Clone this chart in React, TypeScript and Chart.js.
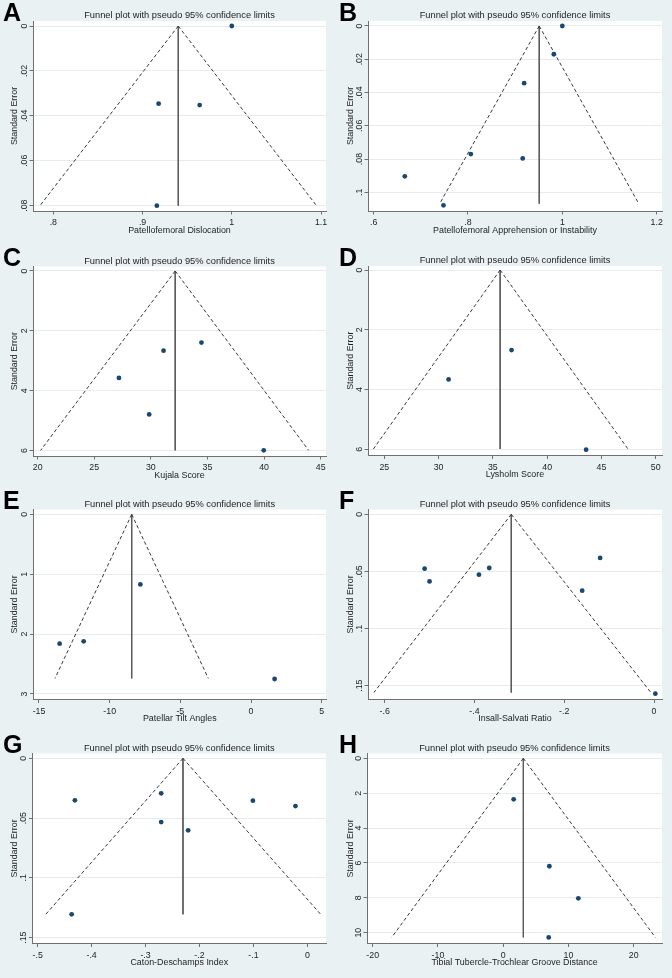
import React, { useEffect, useRef } from "react";
import { Chart, registerables } from "chart.js";

Chart.register(...registerables);

const FONT = '"Liberation Sans", Arial, Helvetica, sans-serif';
const BG = "#e9f1f3";
const NAVY = "#1a476f";
const LINE = "#383838";
const AXIS = "#707070";
const GRID = "#e4ecef";
const TEXT = "#1e1e1e";
const TITLE = "Funnel plot with pseudo 95% confidence limits";
const Y_TITLE = "Standard Error";

// ---------- A: Patellofemoral Dislocation ----------
const aEffect = [1.0, 0.918, 0.964, 0.916];
const aSE = [0.0, 0.0346, 0.0352, 0.08];
const aTheta = 0.94;
const aMaxSE = 0.08;
const aLower = 0.785;
const aUpper = 1.095;
const aXTicks = [0.8, 0.9, 1, 1.1];
const aXTickLabels = [".8", ".9", "1", "1.1"];
const aYTicks = [0, 0.02, 0.04, 0.06, 0.08];
const aYTickLabels = ["0", ".02", ".04", ".06", ".08"];

// ---------- B: Patellofemoral Apprehension or Instability ----------
const bEffect = [1.0, 0.982, 0.919, 0.806, 0.916, 0.666, 0.748];
const bSE = [0.0, 0.017, 0.0344, 0.077, 0.0796, 0.0904, 0.1078];
const bTheta = 0.951;
const bMaxSE = 0.1068;
const bLower = 0.74;
const bUpper = 1.162;
const bXTicks = [0.6, 0.8, 1, 1.2];
const bXTickLabels = [".6", ".8", "1", "1.2"];
const bYTicks = [0, 0.02, 0.04, 0.06, 0.08, 0.1];
const bYTickLabels = ["0", ".02", ".04", ".06", ".08", ".1"];

// ---------- C: Kujala Score ----------
const cEffect = [34.47, 31.12, 27.18, 29.85, 39.97];
const cSE = [2.39, 2.66, 3.57, 4.79, 5.99];
const cTheta = 32.15;
const cMaxSE = 5.99;
const cLower = 20.26;
const cUpper = 43.94;
const cXTicks = [20, 25, 30, 35, 40, 45];
const cXTickLabels = ["20", "25", "30", "35", "40", "45"];
const cYTicks = [0, 2, 4, 6];
const cYTickLabels = ["0", "2", "4", "6"];

// ---------- D: Lysholm Score ----------
const dEffect = [36.72, 30.92, 43.59];
const dSE = [2.68, 3.66, 6.01];
const dTheta = 35.67;
const dMaxSE = 5.99;
const dLower = 23.99;
const dUpper = 47.45;
const dXTicks = [25, 30, 35, 40, 45, 50];
const dXTickLabels = ["25", "30", "35", "40", "45", "50"];
const dYTicks = [0, 2, 4, 6];
const dYTickLabels = ["0", "2", "4", "6"];

// ---------- E: Patellar Tilt Angles ----------
const eEffect = [-7.83, -11.84, -13.54, 1.67];
const eSE = [1.17, 2.12, 2.16, 2.75];
const eTheta = -8.44;
const eMaxSE = 2.74;
const eLower = -13.87;
const eUpper = -3.02;
const eXTicks = [-15, -10, -5, 0, 5];
const eXTickLabels = ["-15", "-10", "-5", "0", "5"];
const eYTicks = [0, 1, 2, 3];
const eYTickLabels = ["0", "1", "2", "3"];

// ---------- F: Insall-Salvati Ratio ----------
const fEffect = [-0.12, -0.511, -0.367, -0.39, -0.5, -0.16, 0.003];
const fSE = [0.0382, 0.0476, 0.047, 0.0528, 0.0587, 0.0668, 0.157];
const fTheta = -0.318;
const fMaxSE = 0.156;
const fLower = -0.624;
const fUpper = -0.007;
const fXTicks = [-0.6, -0.4, -0.2, 0];
const fXTickLabels = ["-.6", "-.4", "-.2", "0"];
const fYTicks = [0, 0.05, 0.1, 0.15];
const fYTickLabels = ["0", ".05", ".1", ".15"];

// ---------- G: Caton-Deschamps Index ----------
const gEffect = [-0.431, -0.271, -0.271, -0.221, -0.101, -0.022, -0.437];
const gSE = [0.0351, 0.0293, 0.0533, 0.0602, 0.0354, 0.0399, 0.1305];
const gTheta = -0.2306;
const gMaxSE = 0.1305;
const gLower = -0.485;
const gUpper = 0.0247;
const gXTicks = [-0.5, -0.4, -0.3, -0.2, -0.1, 0];
const gXTickLabels = ["-.5", "-.4", "-.3", "-.2", "-.1", "0"];
const gYTicks = [0, 0.05, 0.1, 0.15];
const gYTickLabels = ["0", ".05", ".1", ".15"];

// ---------- H: Tibial Tubercle-Trochlear Groove Distance ----------
const hEffect = [1.61, 7.08, 11.52, 6.98];
const hSE = [2.35, 6.19, 8.03, 10.27];
const hTheta = 3.09;
const hMaxSE = 10.27;
const hLower = -17.09;
const hUpper = 23.32;
const hXTicks = [-20, -10, 0, 10, 20];
const hXTickLabels = ["-20", "-10", "0", "10", "20"];
const hYTicks = [0, 2, 4, 6, 8, 10];
const hYTickLabels = ["0", "2", "4", "6", "8", "10"];

type PanelSpec = {
  letter: string;
  xTitle: string;
  effect: number[];
  se: number[];
  theta: number;
  maxSE: number;
  lower: number;
  upper: number;
  xTicks: number[];
  xTickLabels: string[];
  yTicks: number[];
  yTickLabels: string[];
  xMin: number;
  xMax: number;
  yMin: number;
  yMax: number;
  // layout
  left: number;
  top: number;
  h: number;
  box: { l: number; t: number; r: number; b: number };
};

const W = 336;

const panels: PanelSpec[] = [
  {
    letter: "A", xTitle: "Patellofemoral Dislocation",
    effect: aEffect, se: aSE, theta: aTheta, maxSE: aMaxSE, lower: aLower, upper: aUpper,
    xTicks: aXTicks, xTickLabels: aXTickLabels, yTicks: aYTicks, yTickLabels: aYTickLabels,
    xMin: 0.7772, xMax: 1.1056, yMin: -0.00223, yMax: 0.08237,
    left: 0, top: 0, h: 245, box: { l: 33, t: 21, r: 326, b: 211 },
  },
  {
    letter: "B", xTitle: "Patellofemoral Apprehension or Instability",
    effect: bEffect, se: bSE, theta: bTheta, maxSE: bMaxSE, lower: bLower, upper: bUpper,
    xTicks: bXTicks, xTickLabels: bXTickLabels, yTicks: bYTicks, yTickLabels: bYTickLabels,
    xMin: 0.588, xMax: 1.2113, yMin: -0.003, yMax: 0.11122,
    left: 336, top: 0, h: 245, box: { l: 32, t: 21, r: 326, b: 211 },
  },
  {
    letter: "C", xTitle: "Kujala Score",
    effect: cEffect, se: cSE, theta: cTheta, maxSE: cMaxSE, lower: cLower, upper: cUpper,
    xTicks: cXTicks, xTickLabels: cXTickLabels, yTicks: cYTicks, yTickLabels: cYTickLabels,
    xMin: 19.588, xMax: 45.471, yMin: -0.15, yMax: 6.178,
    left: 0, top: 245, h: 245, box: { l: 33, t: 21.5, r: 326, b: 211 },
  },
  {
    letter: "D", xTitle: "Lysholm Score",
    effect: dEffect, se: dSE, theta: dTheta, maxSE: dMaxSE, lower: dLower, upper: dUpper,
    xTicks: dXTicks, xTickLabels: dXTickLabels, yTicks: dYTicks, yTickLabels: dYTickLabels,
    xMin: 23.495, xMax: 50.583, yMin: -0.134, yMax: 6.206,
    left: 336, top: 245, h: 245, box: { l: 32, t: 21, r: 326, b: 210.5 },
  },
  {
    letter: "E", xTitle: "Patellar Tilt Angles",
    effect: eEffect, se: eSE, theta: eTheta, maxSE: eMaxSE, lower: eLower, upper: eUpper,
    xTicks: eXTicks, xTickLabels: eXTickLabels, yTicks: eYTicks, yTickLabels: eYTickLabels,
    xMin: -15.389, xMax: 5.306, yMin: -0.0807, yMax: 3.092,
    left: 0, top: 490, h: 245, box: { l: 33.5, t: 19.5, r: 326, b: 209.5 },
  },
  {
    letter: "F", xTitle: "Insall-Salvati Ratio",
    effect: fEffect, se: fSE, theta: fTheta, maxSE: fMaxSE, lower: fLower, upper: fUpper,
    xTicks: fXTicks, xTickLabels: fXTickLabels, yTicks: fYTicks, yTickLabels: fYTickLabels,
    xMin: -0.6371, xMax: 0.0178, yMin: -0.00423, yMax: 0.1621,
    left: 336, top: 490, h: 245, box: { l: 32, t: 19.5, r: 326, b: 209.5 },
  },
  {
    letter: "G", xTitle: "Caton-Deschamps Index",
    effect: gEffect, se: gSE, theta: gTheta, maxSE: gMaxSE, lower: gLower, upper: gUpper,
    xTicks: gXTicks, xTickLabels: gXTickLabels, yTicks: gYTicks, yTickLabels: gYTickLabels,
    xMin: -0.5096, xMax: 0.0346, yMin: -0.00404, yMax: 0.1549,
    left: 0, top: 735, h: 243, box: { l: 32.5, t: 18.5, r: 326, b: 208.5 },
  },
  {
    letter: "H", xTitle: "Tibial Tubercle-Trochlear Groove Distance",
    effect: hEffect, se: hSE, theta: hTheta, maxSE: hMaxSE, lower: hLower, upper: hUpper,
    xTicks: hXTicks, xTickLabels: hXTickLabels, yTicks: hYTicks, yTickLabels: hYTickLabels,
    xMin: -20.869, xMax: 24.342, yMin: -0.277, yMax: 10.621,
    left: 336, top: 735, h: 243, box: { l: 31, t: 18.5, r: 326, b: 208.5 },
  },
];

function Panel({ p }: { p: PanelSpec }) {
  const ref = useRef<HTMLCanvasElement | null>(null);

  useEffect(() => {
    const canvas = ref.current;
    if (!canvas) return;

    const decor = {
      id: "funnelDecor",
      beforeDraw(chart: any) {
        const { ctx, chartArea: a } = chart;
        ctx.save();
        ctx.fillStyle = "#ffffff";
        ctx.fillRect(a.left, a.top, a.right - a.left, a.bottom - a.top);
        ctx.restore();
      },
      afterDraw(chart: any) {
        const { ctx, chartArea: a } = chart;
        const xs = chart.scales.x;
        const ys = chart.scales.y;
        const cx = (a.left + a.right) / 2;
        ctx.save();
        ctx.fillStyle = "#000000";
        // panel letter
        ctx.font = `bold 25px ${FONT}`;
        ctx.textAlign = "left";
        ctx.textBaseline = "alphabetic";
        ctx.fillText(p.letter, 3, a.top - 0.3);
        // title
        ctx.fillStyle = TEXT;
        ctx.font = `9.3px ${FONT}`;
        ctx.textAlign = "center";
        ctx.fillText(TITLE, cx, a.top - 2.8);
        // x tick labels
        ctx.font = `8.8px ${FONT}`;
        p.xTicks.forEach((v, i) => {
          ctx.fillText(p.xTickLabels[i], xs.getPixelForValue(v), a.bottom + 14.3);
        });
        // x title
        ctx.font = `8.9px ${FONT}`;
        ctx.fillText(p.xTitle, cx, a.bottom + 21.6);
        // y tick labels (rotated)
        ctx.font = `8.8px ${FONT}`;
        p.yTicks.forEach((v, i) => {
          ctx.save();
          ctx.translate(a.left - 6.2, ys.getPixelForValue(v));
          ctx.rotate(-Math.PI / 2);
          ctx.textAlign = "center";
          ctx.fillText(p.yTickLabels[i], 0, 0);
          ctx.restore();
        });
        // y title
        ctx.save();
        ctx.font = `8.9px ${FONT}`;
        ctx.translate(16.6, (a.top + a.bottom) / 2);
        ctx.rotate(-Math.PI / 2);
        ctx.textAlign = "center";
        ctx.fillText(Y_TITLE, 0, 0);
        ctx.restore();
        ctx.restore();
      },
    };

    const chart = new Chart(canvas, {
      type: "scatter",
      data: {
        datasets: [
          {
            data: p.effect.map((x, i) => ({ x, y: p.se[i] })),
            pointRadius: 2.4,
            pointHoverRadius: 2.4,
            backgroundColor: NAVY,
            borderColor: NAVY,
            borderWidth: 0,
            clip: false,
          } as any,
          {
            data: [{ x: p.theta, y: 0 }, { x: p.lower, y: p.maxSE }],
            showLine: true,
            borderColor: LINE,
            borderWidth: 1,
            borderDash: [3.5, 2.5],
            pointRadius: 0,
            clip: false,
          },
          {
            data: [{ x: p.theta, y: 0 }, { x: p.upper, y: p.maxSE }],
            showLine: true,
            borderColor: LINE,
            borderWidth: 1,
            borderDash: [3.5, 2.5],
            pointRadius: 0,
            clip: false,
          },
          {
            data: [{ x: p.theta, y: 0 }, { x: p.theta, y: p.maxSE }],
            showLine: true,
            borderColor: "#5a5a5a",
            borderWidth: 1,
            pointRadius: 0,
            clip: false,
          },
        ],
      },
      options: {
        animation: false,
        responsive: false,
        events: [],
        layout: { padding: { top: p.box.t, right: W - p.box.r, left: 0, bottom: 0 } },
        plugins: {
          legend: { display: false },
          tooltip: { enabled: false },
          title: { display: false },
        },
        scales: {
          x: {
            type: "linear",
            min: p.xMin,
            max: p.xMax,
            afterBuildTicks: (s: any) => {
              s.ticks = p.xTicks.map((v) => ({ value: v }));
            },
            afterFit: (s: any) => {
              s.height = p.h - p.box.b;
            },
            ticks: { display: false },
            grid: {
              drawOnChartArea: false,
              drawTicks: true,
              tickLength: 3.5,
              tickColor: AXIS,
              tickWidth: 1,
            },
            border: { display: true, color: AXIS, width: 1 },
          },
          y: {
            type: "linear",
            reverse: true,
            min: p.yMin,
            max: p.yMax,
            afterBuildTicks: (s: any) => {
              s.ticks = p.yTicks.map((v) => ({ value: v }));
            },
            afterFit: (s: any) => {
              s.width = p.box.l;
            },
            ticks: { display: false },
            grid: {
              drawOnChartArea: true,
              color: GRID,
              lineWidth: 1,
              drawTicks: true,
              tickLength: 3.5,
              tickColor: AXIS,
              tickWidth: 1,
            },
            border: { display: true, color: AXIS, width: 1 },
          },
        },
      },
      plugins: [decor],
    });

    return () => chart.destroy();
  }, [p]);

  return (
    <canvas
      ref={ref}
      width={W}
      height={p.h}
      style={{ position: "absolute", left: p.left, top: p.top, width: W, height: p.h, display: "block" }}
    />
  );
}

export default function App() {
  return (
    <div
      style={{
        position: "fixed",
        left: 0,
        top: 0,
        width: 672,
        height: 978,
        background: BG,
        overflow: "hidden",
      }}
    >
      {panels.map((p) => (
        <Panel key={p.letter} p={p} />
      ))}
    </div>
  );
}
